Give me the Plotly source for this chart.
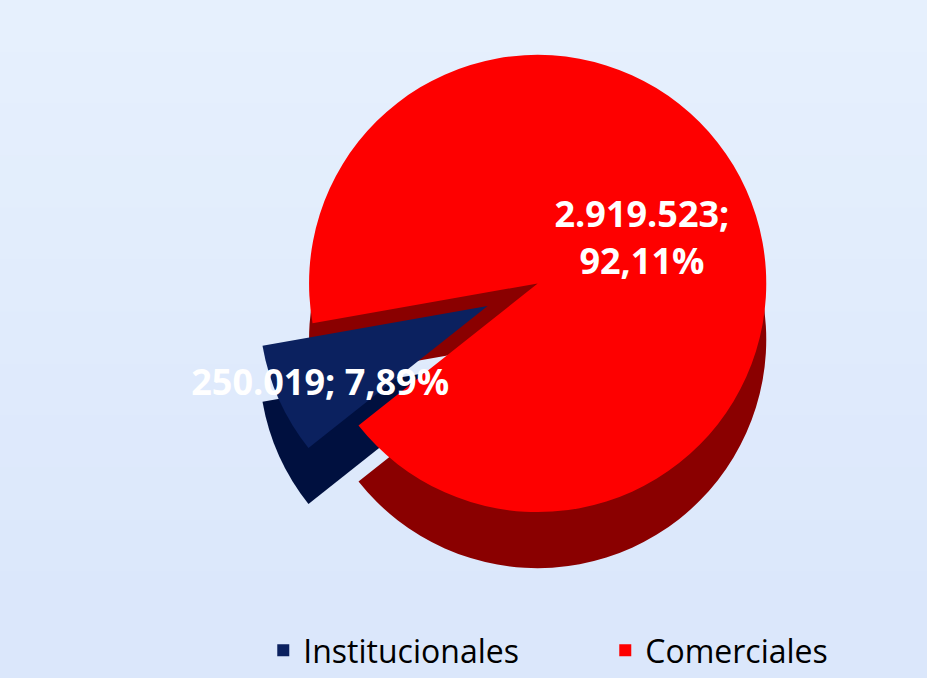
import plotly.graph_objects as go

categories = ["Comerciales", "Institucionales"]
values = [2919523, 250019]
colors = ["#fe0000", "#0b215f"]
side_colors = ["#8a0000", "#00103f"]
templates = ["%{value:,.0f};<br>%{percent:.2%}", "%{value:,.0f}; %{percent:.2%}"]

fig = go.Figure()

# depth (side) layer
fig.add_trace(go.Pie(
    labels=categories, values=values, sort=False, direction="clockwise",
    rotation=260, pull=[0, 0.24],
    marker=dict(colors=side_colors, line=dict(width=0)),
    textinfo="none", hoverinfo="skip", showlegend=False,
    domain=dict(x=[0.16, 1.0], y=[0.0, 0.91]),
))

fig.add_trace(go.Pie(
    labels=categories, values=values, sort=False, direction="clockwise",
    rotation=260, pull=[0, 0.24],
    marker=dict(colors=colors, line=dict(width=0)),
    texttemplate=templates, textposition="inside",
    insidetextorientation="horizontal",
    textfont=dict(family="Open Sans", size=36, color="white", weight="bold"),
    domain=dict(x=[0.16, 1.0], y=[0.09, 1.0]),
))

# soft vertical background gradient
n = 12
top = (230, 240, 253)
bot = (219, 231, 251)
shapes = []
for i in range(n):
    t = i / (n - 1)
    c = tuple(round(top[k] + (bot[k] - top[k]) * t) for k in range(3))
    shapes.append(dict(type="rect", xref="paper", yref="paper", x0=-0.1, x1=1.1,
                       y0=1 - (i + 1) / n - (0.1 if i == n - 1 else 0),
                       y1=1 - i / n + (0.1 if i == 0 else 0), layer="below",
                       line=dict(width=0), fillcolor="rgb(%d,%d,%d)" % c))

fig.update_layout(
    width=927, height=678,
    separators=",.",
    paper_bgcolor="#e1ecfc", plot_bgcolor="#e1ecfc",
    margin=dict(l=0, r=0, t=0, b=0),
    shapes=shapes,
    uniformtext=dict(minsize=36, mode="show"),
    legend=dict(orientation="h", xref="container", yref="container", traceorder="reversed",
                x=0.284, xanchor="left", y=-0.045, yanchor="bottom",
                font=dict(family="Open Sans", size=32, color="black"),
                entrywidth=297, entrywidthmode="pixels",
                itemwidth=30, bgcolor="rgba(0,0,0,0)"),
)

fig.write_html("out.html", config={"displayModeBar": False},
               post_script="document.body.style.margin='0';document.body.style.overflow='hidden';")
